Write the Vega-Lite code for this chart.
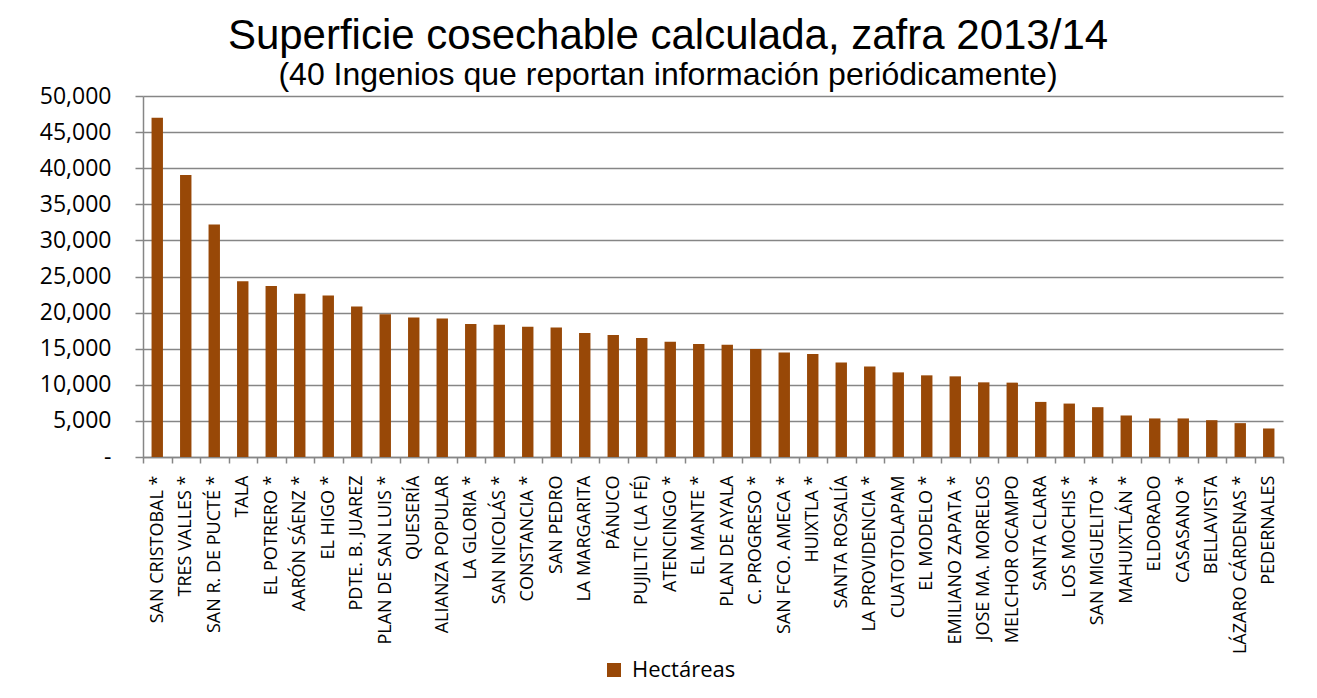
{
  "$schema": "https://vega.github.io/schema/vega-lite/v6.json",
  "width": 1140,
  "height": 361,
  "autosize": "none",
  "padding": {"left": 143, "top": 96, "right": 34, "bottom": 241},
  "background": "white",
  "title": {
    "text": "Superficie cosechable calculada, zafra 2013/14",
    "subtitle": "(40 Ingenios que reportan información periódicamente)",
    "font": "Liberation Sans",
    "fontSize": 42,
    "fontWeight": "normal",
    "color": "black",
    "subtitleFont": "Liberation Sans",
    "subtitleFontSize": 32,
    "subtitleColor": "black",
    "subtitlePadding": 2,
    "anchor": "middle",
    "frame": "group",
    "dx": -45,
    "offset": -7
  },
  "data": {
    "values": [
      {"ingenio": "SAN CRISTOBAL *", "hectareas": 47000},
      {"ingenio": "TRES VALLES *", "hectareas": 39050},
      {"ingenio": "SAN R. DE PUCTÉ *", "hectareas": 32200},
      {"ingenio": "TALA", "hectareas": 24350},
      {"ingenio": "EL POTRERO *", "hectareas": 23700},
      {"ingenio": "AARÓN SÁENZ *", "hectareas": 22600},
      {"ingenio": "EL HIGO *", "hectareas": 22380},
      {"ingenio": "PDTE. B. JUAREZ", "hectareas": 20850},
      {"ingenio": "PLAN DE SAN LUIS *", "hectareas": 19780},
      {"ingenio": "QUESERÍA", "hectareas": 19330},
      {"ingenio": "ALIANZA POPULAR", "hectareas": 19180},
      {"ingenio": "LA GLORIA *", "hectareas": 18420},
      {"ingenio": "SAN NICOLÁS *", "hectareas": 18330},
      {"ingenio": "CONSTANCIA *", "hectareas": 18050},
      {"ingenio": "SAN PEDRO", "hectareas": 17920},
      {"ingenio": "LA MARGARITA", "hectareas": 17180},
      {"ingenio": "PÁNUCO", "hectareas": 16900},
      {"ingenio": "PUJILTIC (LA FÉ)", "hectareas": 16480},
      {"ingenio": "ATENCINGO *", "hectareas": 15970},
      {"ingenio": "EL MANTE *", "hectareas": 15650},
      {"ingenio": "PLAN DE AYALA", "hectareas": 15560},
      {"ingenio": "C. PROGRESO *", "hectareas": 14950},
      {"ingenio": "SAN FCO. AMECA *", "hectareas": 14490},
      {"ingenio": "HUIXTLA *", "hectareas": 14260},
      {"ingenio": "SANTA ROSALÍA", "hectareas": 13100},
      {"ingenio": "LA PROVIDENCIA *", "hectareas": 12550},
      {"ingenio": "CUATOTOLAPAM", "hectareas": 11720},
      {"ingenio": "EL MODELO *", "hectareas": 11310},
      {"ingenio": "EMILIANO ZAPATA *", "hectareas": 11170},
      {"ingenio": "JOSE MA. MORELOS", "hectareas": 10340},
      {"ingenio": "MELCHOR OCAMPO", "hectareas": 10300},
      {"ingenio": "SANTA CLARA", "hectareas": 7630},
      {"ingenio": "LOS MOCHIS *", "hectareas": 7400},
      {"ingenio": "SAN MIGUELITO *", "hectareas": 6900},
      {"ingenio": "MAHUIXTLÁN *", "hectareas": 5750},
      {"ingenio": "ELDORADO", "hectareas": 5340},
      {"ingenio": "CASASANO *", "hectareas": 5340},
      {"ingenio": "BELLAVISTA", "hectareas": 5100},
      {"ingenio": "LÁZARO CÁRDENAS *", "hectareas": 4690},
      {"ingenio": "PEDERNALES", "hectareas": 3950}
    ]
  },
  "mark": {"type": "bar", "width": {"band": 0.4}},
  "encoding": {
    "x": {
      "field": "ingenio",
      "type": "nominal",
      "sort": null,
      "scale": {"paddingInner": 0, "paddingOuter": 0},
      "axis": {
        "title": null,
        "labelAngle": -90,
        "labelFont": "Open Sans",
        "labelFontSize": 18,
        "labelColor": "black",
        "labelPadding": 12,
        "labelOverlap": false,
        "labelLimit": 400,
        "tickBand": "extent",
        "tickSize": 6,
        "tickColor": "#868686",
        "tickWidth": 1.5,
        "domainColor": "#868686",
        "domainWidth": 1.5,
        "grid": false
      }
    },
    "y": {
      "field": "hectareas",
      "type": "quantitative",
      "scale": {"domain": [0, 50000], "nice": false},
      "axis": {
        "title": null,
        "values": [0, 5000, 10000, 15000, 20000, 25000, 30000, 35000, 40000, 45000, 50000],
        "labelExpr": "datum.value === 0 ? '-' : format(datum.value, ',')",
        "labelFont": "Open Sans",
        "labelFontSize": 23,
        "labelColor": "black",
        "labelPadding": 24,
        "tickSize": 8,
        "tickColor": "#868686",
        "tickWidth": 1.5,
        "domainColor": "#868686",
        "domainWidth": 1.5,
        "grid": true,
        "gridColor": "#868686",
        "gridWidth": 1.5,
        "gridOpacity": 1
      }
    },
    "color": {
      "datum": "Hectáreas",
      "type": "nominal",
      "scale": {"range": ["#984807"]},
      "legend": {
        "title": null,
        "orient": "none",
        "legendX": 460,
        "legendY": 563,
        "symbolType": "square",
        "symbolSize": 196,
        "symbolStrokeWidth": 0,
        "labelFont": "Open Sans",
        "labelFontSize": 22,
        "labelColor": "black",
        "labelOffset": 7,
        "padding": 0
      }
    }
  },
  "config": {
    "view": {"stroke": null}
  }
}
